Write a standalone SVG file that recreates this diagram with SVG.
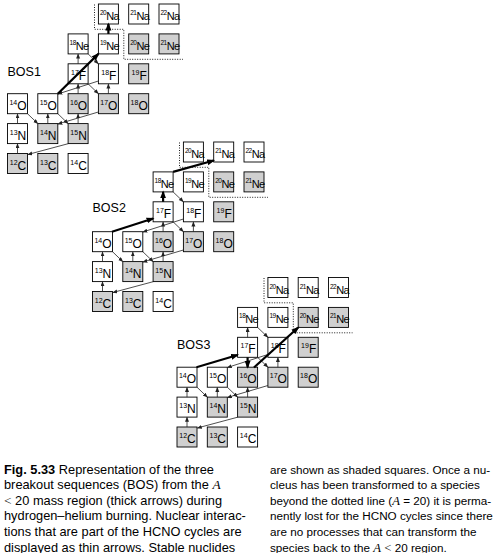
<svg xmlns="http://www.w3.org/2000/svg" width="499" height="553" viewBox="0 0 499 553">
<defs>
<style>
.nuc rect{fill:#fff;stroke:#000;stroke-width:0.9}
.s rect{fill:#d0d0d0}
.nuc text{font-family:"Liberation Sans",Arial,sans-serif;font-size:12px;fill:#000}
.c{text-anchor:middle}
.m{font-size:7px}
.nn{font-size:11px;letter-spacing:-0.7px}
.nm{font-size:6.5px;letter-spacing:-0.5px}
.thin{stroke:#222;stroke-width:0.8;fill:none;marker-end:url(#ah)}
.thick{stroke:#000;stroke-width:2.2;fill:none;marker-end:url(#AH)}
.dot{stroke:#000;stroke-width:0.9;stroke-dasharray:1 1.5;fill:none}
.bos{font-family:"Liberation Sans",Arial,sans-serif;font-size:12.5px;fill:#000}
.cap{font-family:"Liberation Sans",Arial,sans-serif;font-size:11.7px;fill:#000}
.capl{font-size:12.8px}
.it{font-family:"Liberation Serif","Times New Roman",serif;font-style:italic;font-size:12.7px}
.capl .it,.capl .sf{font-size:13.4px}
.sf{font-family:"Liberation Serif","Times New Roman",serif;font-size:12.7px}
</style>
<marker id="ah" markerUnits="userSpaceOnUse" markerWidth="6" markerHeight="5" refX="4.5" refY="2" orient="auto"><path d="M0,0 L5,2 L0,4 z" fill="#222"/></marker>
<marker id="AH" markerUnits="userSpaceOnUse" markerWidth="9" markerHeight="7" refX="6.5" refY="3" orient="auto"><path d="M0,0 L8,3 L0,6 z" fill="#000"/></marker>
</defs>

<!-- BOS1 -->
<g id="bos1" transform="translate(7.5,4)">
<text class="bos" x="0" y="72">BOS1</text>
<g id="b1-20Na" class="nuc" transform="translate(90.9,0)"><rect width="20" height="20"/><text x="1.5" y="16"><tspan class="nm" dy="-5">20</tspan><tspan class="nn" dy="5">Na</tspan></text></g>
<g id="b1-21Na" class="nuc" transform="translate(121.2,0)"><rect width="20" height="20"/><text x="1.5" y="16"><tspan class="nm" dy="-5">21</tspan><tspan class="nn" dy="5">Na</tspan></text></g>
<g id="b1-22Na" class="nuc" transform="translate(151.5,0)"><rect width="20" height="20"/><text x="1.5" y="16"><tspan class="nm" dy="-5">22</tspan><tspan class="nn" dy="5">Na</tspan></text></g>
<g id="b1-18Ne" class="nuc" transform="translate(60.6,29.9)"><rect width="20" height="20"/><text x="1.5" y="16"><tspan class="nm" dy="-5">18</tspan><tspan class="nn" dy="5">Ne</tspan></text></g>
<g id="b1-19Ne" class="nuc" transform="translate(90.9,29.9)"><rect width="20" height="20"/><text x="1.5" y="16"><tspan class="nm" dy="-5">19</tspan><tspan class="nn" dy="5">Ne</tspan></text></g>
<g id="b1-20Ne" class="nuc s" transform="translate(121.2,29.9)"><rect width="20" height="20"/><text x="1.5" y="16"><tspan class="nm" dy="-5">20</tspan><tspan class="nn" dy="5">Ne</tspan></text></g>
<g id="b1-21Ne" class="nuc s" transform="translate(151.5,29.9)"><rect width="20" height="20"/><text x="1.5" y="16"><tspan class="nm" dy="-5">21</tspan><tspan class="nn" dy="5">Ne</tspan></text></g>
<g id="b1-17F" class="nuc" transform="translate(60.6,59.8)"><rect width="20" height="20"/><text class="c" x="10.5" y="16"><tspan class="m" dy="-5">17</tspan><tspan dy="5">F</tspan></text></g>
<g id="b1-18F" class="nuc" transform="translate(90.9,59.8)"><rect width="20" height="20"/><text class="c" x="10.5" y="16"><tspan class="m" dy="-5">18</tspan><tspan dy="5">F</tspan></text></g>
<g id="b1-19F" class="nuc s" transform="translate(121.2,59.8)"><rect width="20" height="20"/><text class="c" x="10.5" y="16"><tspan class="m" dy="-5">19</tspan><tspan dy="5">F</tspan></text></g>
<g id="b1-14O" class="nuc" transform="translate(0,89.7)"><rect width="20" height="20"/><text class="c" x="10.5" y="16"><tspan class="m" dy="-5">14</tspan><tspan dy="5">O</tspan></text></g>
<g id="b1-15O" class="nuc" transform="translate(30.3,89.7)"><rect width="20" height="20"/><text class="c" x="10.5" y="16"><tspan class="m" dy="-5">15</tspan><tspan dy="5">O</tspan></text></g>
<g id="b1-16O" class="nuc s" transform="translate(60.6,89.7)"><rect width="20" height="20"/><text class="c" x="10.5" y="16"><tspan class="m" dy="-5">16</tspan><tspan dy="5">O</tspan></text></g>
<g id="b1-17O" class="nuc s" transform="translate(90.9,89.7)"><rect width="20" height="20"/><text class="c" x="10.5" y="16"><tspan class="m" dy="-5">17</tspan><tspan dy="5">O</tspan></text></g>
<g id="b1-18O" class="nuc s" transform="translate(121.2,89.7)"><rect width="20" height="20"/><text class="c" x="10.5" y="16"><tspan class="m" dy="-5">18</tspan><tspan dy="5">O</tspan></text></g>
<g id="b1-13N" class="nuc" transform="translate(0,119.6)"><rect width="20" height="20"/><text class="c" x="10.5" y="16"><tspan class="m" dy="-5">13</tspan><tspan dy="5">N</tspan></text></g>
<g id="b1-14N" class="nuc s" transform="translate(30.3,119.6)"><rect width="20" height="20"/><text class="c" x="10.5" y="16"><tspan class="m" dy="-5">14</tspan><tspan dy="5">N</tspan></text></g>
<g id="b1-15N" class="nuc s" transform="translate(60.6,119.6)"><rect width="20" height="20"/><text class="c" x="10.5" y="16"><tspan class="m" dy="-5">15</tspan><tspan dy="5">N</tspan></text></g>
<g id="b1-12C" class="nuc s" transform="translate(0,149.5)"><rect width="20" height="20"/><text class="c" x="10.5" y="16"><tspan class="m" dy="-5">12</tspan><tspan dy="5">C</tspan></text></g>
<g id="b1-13C" class="nuc s" transform="translate(30.3,149.5)"><rect width="20" height="20"/><text class="c" x="10.5" y="16"><tspan class="m" dy="-5">13</tspan><tspan dy="5">C</tspan></text></g>
<g id="b1-14C" class="nuc" transform="translate(60.6,149.5)"><rect width="20" height="20"/><text class="c" x="10.5" y="16"><tspan class="m" dy="-5">14</tspan><tspan dy="5">C</tspan></text></g>
</g>

<!-- BOS2 -->
<g id="bos2" transform="translate(92.5,142)">
<text class="bos" x="0" y="70">BOS2</text>
<g id="b2-20Na" class="nuc" transform="translate(90.9,0)"><rect width="20" height="20"/><text x="1.5" y="16"><tspan class="nm" dy="-5">20</tspan><tspan class="nn" dy="5">Na</tspan></text></g>
<g id="b2-21Na" class="nuc" transform="translate(121.2,0)"><rect width="20" height="20"/><text x="1.5" y="16"><tspan class="nm" dy="-5">21</tspan><tspan class="nn" dy="5">Na</tspan></text></g>
<g id="b2-22Na" class="nuc" transform="translate(151.5,0)"><rect width="20" height="20"/><text x="1.5" y="16"><tspan class="nm" dy="-5">22</tspan><tspan class="nn" dy="5">Na</tspan></text></g>
<g id="b2-18Ne" class="nuc" transform="translate(60.6,29.9)"><rect width="20" height="20"/><text x="1.5" y="16"><tspan class="nm" dy="-5">18</tspan><tspan class="nn" dy="5">Ne</tspan></text></g>
<g id="b2-19Ne" class="nuc" transform="translate(90.9,29.9)"><rect width="20" height="20"/><text x="1.5" y="16"><tspan class="nm" dy="-5">19</tspan><tspan class="nn" dy="5">Ne</tspan></text></g>
<g id="b2-20Ne" class="nuc s" transform="translate(121.2,29.9)"><rect width="20" height="20"/><text x="1.5" y="16"><tspan class="nm" dy="-5">20</tspan><tspan class="nn" dy="5">Ne</tspan></text></g>
<g id="b2-21Ne" class="nuc s" transform="translate(151.5,29.9)"><rect width="20" height="20"/><text x="1.5" y="16"><tspan class="nm" dy="-5">21</tspan><tspan class="nn" dy="5">Ne</tspan></text></g>
<g id="b2-17F" class="nuc" transform="translate(60.6,59.8)"><rect width="20" height="20"/><text class="c" x="10.5" y="16"><tspan class="m" dy="-5">17</tspan><tspan dy="5">F</tspan></text></g>
<g id="b2-18F" class="nuc" transform="translate(90.9,59.8)"><rect width="20" height="20"/><text class="c" x="10.5" y="16"><tspan class="m" dy="-5">18</tspan><tspan dy="5">F</tspan></text></g>
<g id="b2-19F" class="nuc s" transform="translate(121.2,59.8)"><rect width="20" height="20"/><text class="c" x="10.5" y="16"><tspan class="m" dy="-5">19</tspan><tspan dy="5">F</tspan></text></g>
<g id="b2-14O" class="nuc" transform="translate(0,89.7)"><rect width="20" height="20"/><text class="c" x="10.5" y="16"><tspan class="m" dy="-5">14</tspan><tspan dy="5">O</tspan></text></g>
<g id="b2-15O" class="nuc" transform="translate(30.3,89.7)"><rect width="20" height="20"/><text class="c" x="10.5" y="16"><tspan class="m" dy="-5">15</tspan><tspan dy="5">O</tspan></text></g>
<g id="b2-16O" class="nuc s" transform="translate(60.6,89.7)"><rect width="20" height="20"/><text class="c" x="10.5" y="16"><tspan class="m" dy="-5">16</tspan><tspan dy="5">O</tspan></text></g>
<g id="b2-17O" class="nuc s" transform="translate(90.9,89.7)"><rect width="20" height="20"/><text class="c" x="10.5" y="16"><tspan class="m" dy="-5">17</tspan><tspan dy="5">O</tspan></text></g>
<g id="b2-18O" class="nuc s" transform="translate(121.2,89.7)"><rect width="20" height="20"/><text class="c" x="10.5" y="16"><tspan class="m" dy="-5">18</tspan><tspan dy="5">O</tspan></text></g>
<g id="b2-13N" class="nuc" transform="translate(0,119.6)"><rect width="20" height="20"/><text class="c" x="10.5" y="16"><tspan class="m" dy="-5">13</tspan><tspan dy="5">N</tspan></text></g>
<g id="b2-14N" class="nuc s" transform="translate(30.3,119.6)"><rect width="20" height="20"/><text class="c" x="10.5" y="16"><tspan class="m" dy="-5">14</tspan><tspan dy="5">N</tspan></text></g>
<g id="b2-15N" class="nuc s" transform="translate(60.6,119.6)"><rect width="20" height="20"/><text class="c" x="10.5" y="16"><tspan class="m" dy="-5">15</tspan><tspan dy="5">N</tspan></text></g>
<g id="b2-12C" class="nuc s" transform="translate(0,149.5)"><rect width="20" height="20"/><text class="c" x="10.5" y="16"><tspan class="m" dy="-5">12</tspan><tspan dy="5">C</tspan></text></g>
<g id="b2-13C" class="nuc s" transform="translate(30.3,149.5)"><rect width="20" height="20"/><text class="c" x="10.5" y="16"><tspan class="m" dy="-5">13</tspan><tspan dy="5">C</tspan></text></g>
<g id="b2-14C" class="nuc" transform="translate(60.6,149.5)"><rect width="20" height="20"/><text class="c" x="10.5" y="16"><tspan class="m" dy="-5">14</tspan><tspan dy="5">C</tspan></text></g>
</g>

<!-- BOS3 -->
<g id="bos3" transform="translate(177,277.5)">
<text class="bos" x="0" y="71.5">BOS3</text>
<g id="b3-20Na" class="nuc" transform="translate(90.9,0)"><rect width="20" height="20"/><text x="1.5" y="16"><tspan class="nm" dy="-5">20</tspan><tspan class="nn" dy="5">Na</tspan></text></g>
<g id="b3-21Na" class="nuc" transform="translate(121.2,0)"><rect width="20" height="20"/><text x="1.5" y="16"><tspan class="nm" dy="-5">21</tspan><tspan class="nn" dy="5">Na</tspan></text></g>
<g id="b3-22Na" class="nuc" transform="translate(151.5,0)"><rect width="20" height="20"/><text x="1.5" y="16"><tspan class="nm" dy="-5">22</tspan><tspan class="nn" dy="5">Na</tspan></text></g>
<g id="b3-18Ne" class="nuc" transform="translate(60.6,29.9)"><rect width="20" height="20"/><text x="1.5" y="16"><tspan class="nm" dy="-5">18</tspan><tspan class="nn" dy="5">Ne</tspan></text></g>
<g id="b3-19Ne" class="nuc" transform="translate(90.9,29.9)"><rect width="20" height="20"/><text x="1.5" y="16"><tspan class="nm" dy="-5">19</tspan><tspan class="nn" dy="5">Ne</tspan></text></g>
<g id="b3-20Ne" class="nuc s" transform="translate(121.2,29.9)"><rect width="20" height="20"/><text x="1.5" y="16"><tspan class="nm" dy="-5">20</tspan><tspan class="nn" dy="5">Ne</tspan></text></g>
<g id="b3-21Ne" class="nuc s" transform="translate(151.5,29.9)"><rect width="20" height="20"/><text x="1.5" y="16"><tspan class="nm" dy="-5">21</tspan><tspan class="nn" dy="5">Ne</tspan></text></g>
<g id="b3-17F" class="nuc" transform="translate(60.6,59.8)"><rect width="20" height="20"/><text class="c" x="10.5" y="16"><tspan class="m" dy="-5">17</tspan><tspan dy="5">F</tspan></text></g>
<g id="b3-18F" class="nuc" transform="translate(90.9,59.8)"><rect width="20" height="20"/><text class="c" x="10.5" y="16"><tspan class="m" dy="-5">18</tspan><tspan dy="5">F</tspan></text></g>
<g id="b3-19F" class="nuc s" transform="translate(121.2,59.8)"><rect width="20" height="20"/><text class="c" x="10.5" y="16"><tspan class="m" dy="-5">19</tspan><tspan dy="5">F</tspan></text></g>
<g id="b3-14O" class="nuc" transform="translate(0,89.7)"><rect width="20" height="20"/><text class="c" x="10.5" y="16"><tspan class="m" dy="-5">14</tspan><tspan dy="5">O</tspan></text></g>
<g id="b3-15O" class="nuc" transform="translate(30.3,89.7)"><rect width="20" height="20"/><text class="c" x="10.5" y="16"><tspan class="m" dy="-5">15</tspan><tspan dy="5">O</tspan></text></g>
<g id="b3-16O" class="nuc s" transform="translate(60.6,89.7)"><rect width="20" height="20"/><text class="c" x="10.5" y="16"><tspan class="m" dy="-5">16</tspan><tspan dy="5">O</tspan></text></g>
<g id="b3-17O" class="nuc s" transform="translate(90.9,89.7)"><rect width="20" height="20"/><text class="c" x="10.5" y="16"><tspan class="m" dy="-5">17</tspan><tspan dy="5">O</tspan></text></g>
<g id="b3-18O" class="nuc s" transform="translate(121.2,89.7)"><rect width="20" height="20"/><text class="c" x="10.5" y="16"><tspan class="m" dy="-5">18</tspan><tspan dy="5">O</tspan></text></g>
<g id="b3-13N" class="nuc" transform="translate(0,119.6)"><rect width="20" height="20"/><text class="c" x="10.5" y="16"><tspan class="m" dy="-5">13</tspan><tspan dy="5">N</tspan></text></g>
<g id="b3-14N" class="nuc s" transform="translate(30.3,119.6)"><rect width="20" height="20"/><text class="c" x="10.5" y="16"><tspan class="m" dy="-5">14</tspan><tspan dy="5">N</tspan></text></g>
<g id="b3-15N" class="nuc s" transform="translate(60.6,119.6)"><rect width="20" height="20"/><text class="c" x="10.5" y="16"><tspan class="m" dy="-5">15</tspan><tspan dy="5">N</tspan></text></g>
<g id="b3-12C" class="nuc s" transform="translate(0,149.5)"><rect width="20" height="20"/><text class="c" x="10.5" y="16"><tspan class="m" dy="-5">12</tspan><tspan dy="5">C</tspan></text></g>
<g id="b3-13C" class="nuc s" transform="translate(30.3,149.5)"><rect width="20" height="20"/><text class="c" x="10.5" y="16"><tspan class="m" dy="-5">13</tspan><tspan dy="5">C</tspan></text></g>
<g id="b3-14C" class="nuc" transform="translate(60.6,149.5)"><rect width="20" height="20"/><text class="c" x="10.5" y="16"><tspan class="m" dy="-5">14</tspan><tspan dy="5">C</tspan></text></g>
</g>

<!-- connectors -->
<g id="connectors">
<g id="c-bos1" transform="translate(7.5,4)">
<path class="dot" d="M87,0.5 V25.3 H116.3 V55.3 H175.5"/>
<path class="thin" d="M10,149.5 V139.8"/>
<path class="thin" d="M10,119.6 V109.9"/>
<path class="thin" d="M20,109.7 L30.3,119.6"/>
<path class="thin" d="M40.3,119.6 V109.9"/>
<path class="thin" d="M50.3,109.7 L60.6,119.6"/>
<path class="thin" d="M61,139.6 L20.3,150.5"/>
<path class="thin" d="M70.6,119.6 V109.9"/>
<path class="thin" d="M80.6,79.8 L90.9,89.7"/>
<path class="thin" d="M90.9,108 L50.3,120"/>
<path class="thin" d="M80.6,49.9 L90.9,59.8"/>
<path class="thin" d="M100.9,89.7 V80"/>
<path class="thin" d="M90.9,77 L50.3,90"/>
<path class="thin" d="M70.6,89.7 V80"/>
<path class="thin" d="M70.6,59.8 V50.1"/>
<path class="thick" d="M50.3,89.7 L90.9,49.9"/>
<path class="thick" d="M100.9,29.9 V20"/>
</g>
<g id="c-bos2" transform="translate(92.5,142)">
<path class="dot" d="M87,0.5 V25.3 H116.3 V55.3 H175.5"/>
<path class="thin" d="M10,149.5 V139.8"/>
<path class="thin" d="M10,119.6 V109.9"/>
<path class="thin" d="M20,109.7 L30.3,119.6"/>
<path class="thin" d="M40.3,119.6 V109.9"/>
<path class="thin" d="M50.3,109.7 L60.6,119.6"/>
<path class="thin" d="M61,139.6 L20.3,150.5"/>
<path class="thin" d="M70.6,119.6 V109.9"/>
<path class="thin" d="M80.6,79.8 L90.9,89.7"/>
<path class="thin" d="M90.9,108 L50.3,120"/>
<path class="thin" d="M80.6,49.9 L90.9,59.8"/>
<path class="thin" d="M100.9,89.7 V80"/>
<path class="thin" d="M90.9,77 L50.3,90"/>
<path class="thin" d="M70.6,89.7 V80"/>
<path class="thick" d="M19.5,89.7 L60.6,76.5"/>
<path class="thick" d="M70.6,59.8 V49.9"/>
<path class="thick" d="M80.6,29.9 L121.2,18.5"/>
</g>
<g id="c-bos3" transform="translate(177,277.5)">
<path class="dot" d="M87,0.5 V25.3 H116.3 V55.3 H175.5"/>
<path class="thin" d="M10,149.5 V139.8"/>
<path class="thin" d="M10,119.6 V109.9"/>
<path class="thin" d="M20,109.7 L30.3,119.6"/>
<path class="thin" d="M40.3,119.6 V109.9"/>
<path class="thin" d="M50.3,109.7 L60.6,119.6"/>
<path class="thin" d="M61,139.6 L20.3,150.5"/>
<path class="thin" d="M70.6,119.6 V109.9"/>
<path class="thin" d="M80.6,79.8 L90.9,89.7"/>
<path class="thin" d="M90.9,108 L50.3,120"/>
<path class="thin" d="M80.6,49.9 L90.9,59.8"/>
<path class="thin" d="M100.9,89.7 V80"/>
<path class="thin" d="M90.9,77 L50.3,90"/>
<path class="thin" d="M70.6,59.8 V50.1"/>
<path class="thick" d="M19.5,89.7 L60.6,77.5"/>
<path class="thick" d="M70.6,79.8 V89.7"/>
<path class="thick" d="M77,90 L121.2,50"/>
</g>
</g>

<!-- caption -->
<g id="caption" class="cap">
<text class="capl" x="4" y="473.5"><tspan font-weight="bold">Fig. 5.33</tspan> Representation of the three</text>
<text class="capl" x="4" y="489.1">breakout sequences (BOS) from the <tspan class="it">A</tspan></text>
<text class="capl" x="4" y="504.7"><tspan class="sf">&lt;</tspan> 20 mass region (thick arrows) during</text>
<text class="capl" x="4" y="520.3">hydrogen–helium burning. Nuclear interac-</text>
<text class="capl" x="4" y="535.9">tions that are part of the HCNO cycles are</text>
<text class="capl" x="4" y="551.5">displayed as thin arrows. Stable nuclides</text>
<text x="270" y="473.5">are shown as shaded squares. Once a nu-</text>
<text x="270" y="489.1">cleus has been transformed to a species</text>
<text x="270" y="504.7">beyond the dotted line (<tspan class="it">A</tspan> = 20) it is perma-</text>
<text x="270" y="520.3">nently lost for the HCNO cycles since there</text>
<text x="270" y="535.9">are no processes that can transform the</text>
<text x="270" y="551.5">species back to the <tspan class="it">A</tspan> <tspan class="sf">&lt;</tspan> 20 region.</text>
</g>
</svg>
